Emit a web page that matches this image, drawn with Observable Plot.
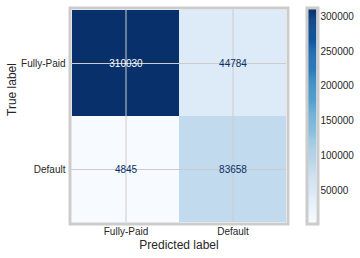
<!DOCTYPE html>
<html>
<head>
<meta charset="utf-8">
<script src="https://cdn.jsdelivr.net/npm/d3@7"></script>
<script src="https://cdn.jsdelivr.net/npm/@observablehq/plot@0.6"></script>
<style>
  html, body { margin: 0; padding: 0; background: white; }
  #wrap { position: relative; width: 360px; height: 258px; overflow: hidden; background: white; }
  #wrap > svg { position: absolute; top: 0; }
</style>
</head>
<body>
<div id="wrap"></div>
<script>
const classes = ["Fully-Paid", "Default"];
const trueLabels = ["Fully-Paid", "Fully-Paid", "Default", "Default"];
const predLabels = ["Fully-Paid", "Default", "Fully-Paid", "Default"];
const counts = [310030, 44784, 4845, 83658];
const colorbarTicks = [50000, 100000, 150000, 200000, 250000, 300000];

const cells = counts.map((v, i) => ({truth: trueLabels[i], pred: predLabels[i], value: v}));
const vmin = d3.min(counts), vmax = d3.max(counts);
const thresh = (vmin + vmax) / 2;
const font = "'Liberation Sans', Arial, sans-serif";
const colorOpts = {type: "linear", scheme: "blues", domain: [vmin, vmax]};

const matrix = Plot.plot({
  width: 300, height: 258,
  marginLeft: 71, marginRight: 14, marginTop: 9, marginBottom: 36,
  style: {background: "white", fontFamily: font, fontSize: "10px", color: "#262626"},
  x: {domain: classes, padding: 0},
  y: {domain: classes, padding: 0},
  color: colorOpts,
  marks: [
    Plot.cell(cells, {x: "pred", y: "truth", fill: "value"}),
    Plot.gridX({stroke: "#cccccc", strokeOpacity: 1, strokeWidth: 1}),
    Plot.gridY({stroke: "#cccccc", strokeOpacity: 1, strokeWidth: 1}),
    Plot.text(cells, {x: "pred", y: "truth", text: d => String(d.value), fontSize: 10,
      fill: d => d.value > thresh ? "#f7fbff" : "#08306b"}),
    Plot.frame({stroke: "#cccccc", strokeWidth: 3, inset: -1.5}),
    Plot.axisX({tickSize: 0, tickPadding: 5, fontSize: 10, label: null}),
    Plot.axisY({tickSize: 0, tickPadding: 6, fontSize: 10, label: null}),
    Plot.text(["Predicted label"], {frameAnchor: "bottom", lineAnchor: "middle", dy: 23, fontSize: 12, fill: "#262626"}),
    Plot.text(["True label"], {frameAnchor: "left", lineAnchor: "middle", rotate: -90, dx: -59, fontSize: 12, fill: "#262626"})
  ]
});

const nSteps = 220;
const ramp = d3.range(nSteps).map(i => {
  const a = vmin + (vmax - vmin) * i / nSteps;
  const b = vmin + (vmax - vmin) * (i + 1) / nSteps;
  return {y1: a, y2: b, v: (a + b) / 2};
});

const colorbar = Plot.plot({
  width: 60, height: 258,
  marginLeft: 8, marginRight: 44, marginTop: 9, marginBottom: 36,
  style: {background: "white", fontFamily: font, fontSize: "10px", color: "#262626"},
  x: {domain: [0, 1], axis: null},
  y: {domain: [vmin, vmax]},
  color: colorOpts,
  marks: [
    Plot.rect(ramp, {x1: 0, x2: 1, y1: "y1", y2: "y2", fill: "v", stroke: "v", strokeWidth: 0.5}),
    Plot.frame({stroke: "#cccccc", strokeWidth: 3, inset: -1.5}),
    Plot.axisY(colorbarTicks, {anchor: "right", tickSize: 0, tickPadding: 4, fontSize: 10, label: null, tickFormat: d => String(d)})
  ]
});

const wrap = document.getElementById("wrap");
matrix.style.left = "0px";
colorbar.style.left = "300px";
wrap.appendChild(matrix);
wrap.appendChild(colorbar);
</script>
</body>
</html>
